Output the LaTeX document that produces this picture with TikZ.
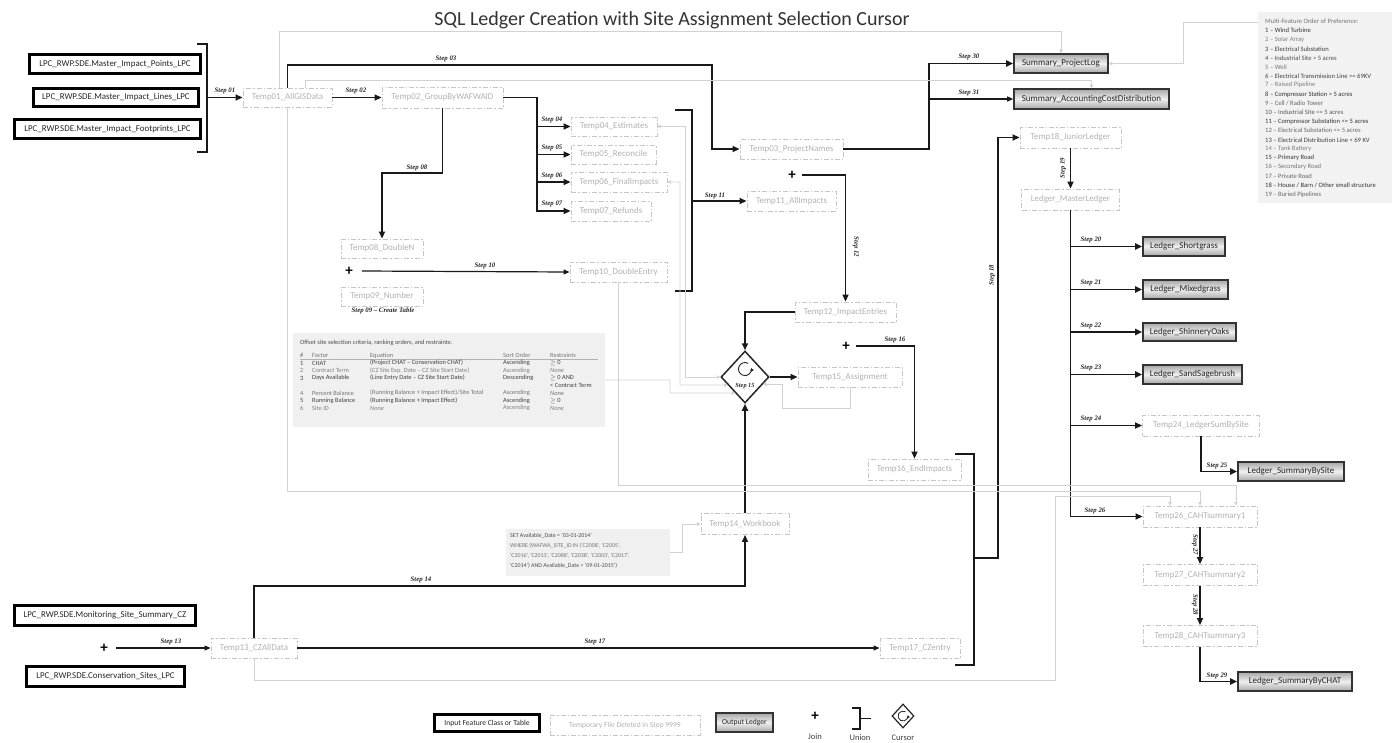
\documentclass[tikz,border=0pt]{standalone}
\usepackage{fontspec}
\setmainfont{Carlito}
\newfontfamily\stepfont{Liberation Serif}
\usetikzlibrary{arrows.meta,shapes.geometric,calc}
\newcommand\myfs[1]{\fontsize{#1}{#1}\selectfont}
\begin{document}
\begin{tikzpicture}[x=1pt,y=-1pt,
 tmp/.style={draw=gray!45, line width=0.9pt, dash pattern=on 5pt off 2pt on 1.5pt off 2pt, text=gray!60, font=\myfs{8.9}, minimum height=20, minimum width=#1, inner sep=0pt},
 inp/.style={draw=black, line width=3pt, fill=white, font=\myfs{8.9}, text=black!85, minimum height=19, minimum width=#1, inner sep=0pt},
 outb/.style={draw=black!80, line width=1.6pt, top color=gray!70, bottom color=gray!70, middle color=gray!12, font=\myfs{9}, text=black!85, minimum height=19, minimum width=#1, inner sep=0pt},
 stp/.style={font=\stepfont\bfseries\itshape\myfs{6.8}, text=black!85, inner sep=0pt},
 joinp/.style={font=\bfseries\myfs{15}, inner sep=1pt},
 ar/.style={line width=1.8pt, black!90, -{Triangle[length=7pt,width=6pt]}},
 art/.style={line width=1.2pt, black!90, -{Triangle[length=6pt,width=5pt]}},
 gl/.style={draw=gray!35, line width=0.8pt},
 ga/.style={gl, -{Triangle[length=3.5pt,width=3.5pt]}},
 gaa/.style={gl, {Triangle[length=3.5pt,width=3.5pt]}-{Triangle[length=3.5pt,width=3.5pt]}},
 brk/.style={line width=1.4pt, black!90},
 small/.style={font=\myfs{6.4}, anchor=west, inner sep=0pt}
]
\fill[white] (0,0) rectangle (1395,742);
\useasboundingbox (0,0) rectangle (1395,742);

% title
\node[font=\myfs{20}, text=black!80] (title) at (672,20) {SQL Ledger Creation with Site Assignment Selection Cursor};

% input boxes
\node[inp=171] (in1) at (115,64) {LPC\_RWP.SDE.Master\_Impact\_Points\_LPC};
\node[inp=165, minimum height=18] (in2) at (116,97.5) {LPC\_RWP.SDE.Master\_Impact\_Lines\_LPC};
\node[inp=186] (in3) at (107.5,129) {LPC\_RWP.SDE.Master\_Impact\_Footprints\_LPC};
\node[inp=181, minimum height=20] (in4) at (105,615.5) {LPC\_RWP.SDE.Monitoring\_Site\_Summary\_CZ};
\node[inp=158, minimum height=20] (in5) at (105.5,676.5) {LPC\_RWP.SDE.Conservation\_Sites\_LPC};

% temp nodes
\node[tmp=89, minimum height=19] (t01) at (287.5,97.5) {Temp01\_AllGISData};
\node[tmp=121, minimum height=21] (t02) at (442.5,97.5) {Temp02\_GroupByWAFWAID};
\node[tmp=103] (t03) at (791.5,149) {Temp03\_ProjectNames};
\node[tmp=86, minimum height=19] (t04) at (614,126.5) {Temp04\_Estimates};
\node[tmp=85, minimum height=19] (t05) at (613.5,154.5) {Temp05\_Reconcile};
\node[tmp=96] (t06) at (619,182) {Temp06\_FinalImpacts};
\node[tmp=80] (t07) at (611,211) {Temp07\_Refunds};
\node[tmp=82, minimum height=19] (t08) at (382,248.5) {Temp08\_DoubleN};
\node[tmp=82, minimum height=19] (t09) at (382,296.5) {Temp09\_Number};
\node[tmp=97] (t10) at (618.5,272) {Temp10\_DoubleEntry};
\node[tmp=89] (t11) at (791.5,201) {Temp11\_AllImpacts};
\node[tmp=101] (t12) at (845.5,312) {Temp12\_ImpactEntries};
\node[tmp=86] (t13) at (254,648) {Temp13\_CZAllData};
\node[tmp=88, minimum height=21] (t14) at (745,524) {Temp14\_Workbook};
\node[tmp=104] (t15) at (850,377) {Temp15\_Assignment};
\node[tmp=93, minimum height=21] (t16) at (914.5,469.5) {Temp16\_EndImpacts};
\node[tmp=80] (t17) at (920,648) {Temp17\_CZentry};
\node[tmp=101, minimum height=21] (t18) at (1070.5,137.5) {Temp18\_JuniorLedger};
\node[tmp=98, minimum height=21] (lm) at (1070.5,199.5) {Ledger\_MasterLedger};
\node[tmp=117, minimum height=21] (t24) at (1201,425.5) {Temp24\_LedgerSumBySite};
\node[tmp=114, minimum height=21] (t26) at (1200,516.5) {Temp26\_CAHTsummary1};
\node[tmp=114, minimum height=21] (t27) at (1200,575) {Temp27\_CAHTsummary2};
\node[tmp=114, minimum height=21] (t28) at (1200,636) {Temp28\_CAHTsummary3};

% output ledgers
\node[outb=94] (spl) at (1061,63.5) {Summary\_ProjectLog};
\node[outb=155, minimum height=20] (sac) at (1091.5,99) {Summary\_AccountingCostDistribution};
\node[outb=82] (lsg) at (1184,246.5) {Ledger\_Shortgrass};
\node[outb=85] (lmg) at (1185.5,289.5) {Ledger\_Mixedgrass};
\node[outb=93, minimum height=18] (lso) at (1189.5,332) {Ledger\_ShinneryOaks};
\node[outb=99] (lss) at (1192.5,374.5) {Ledger\_SandSagebrush};
\node[outb=106] (lsbs) at (1291,471.5) {Ledger\_SummaryBySite};
\node[outb=114] (lsbc) at (1295,681.5) {Ledger\_SummaryByCHAT};

% cursor diamond
\node[diamond, draw=black!85, line width=1.5pt, fill=white, minimum width=48, minimum height=52, inner sep=0pt] (cur) at (745,377) {};
\draw[line width=0.9pt, black!85, -{Triangle[length=3pt,width=3.5pt]}] (748.25,363.4) arc[start angle=-60, end angle=-370, radius=6.5];
\node[stp, font=\stepfont\bfseries\itshape\myfs{6.3}] (s15) at (745,386.5) {Step 15};

% join symbols
\node[joinp] (j1) at (349,271) {+};
\node[joinp] (j2) at (792,175) {+};
\node[joinp] (j3) at (846,346) {+};
\node[joinp] (j4) at (104,648) {+};

% grey boxes: table, note, preference legend
\node[fill=gray!12, minimum width=312, minimum height=94, inner sep=0pt] (tab) at (449,380) {};
\node[fill=gray!12, minimum width=164, minimum height=47, inner sep=0pt] (note) at (588,552.5) {};
\node[fill=gray!10, minimum width=134, minimum height=191, inner sep=0pt] (leg) at (1325,107.5) {};

% table text
\node[small, text=black!70] (tabt) at (300,343) {Offset site selection criteria, ranking orders, and restraints:};
\draw[gray!60, line width=0.4pt] (300,359.5) -- (598,359.5);
\node[small, text=black!55] (th1) at (300,355.5) {\#};
\node[small, text=black!55] (th2) at (312,355.5) {Factor};
\node[small, text=black!55] (th3) at (370,355.5) {Equation};
\node[small, text=black!55] (th4) at (503,355.5) {Sort Order};
\node[small, text=black!55] (th5) at (550,355.5) {Restraints};
\foreach \yy/\n/\f/\e/\s/\r/\cc in {
 363/1/CHAT/{(Project CHAT – Conservation CHAT)}/Ascending/{$\geq$ 0}/black!75,
 370.5/2/Contract Term/{(CZ Site Exp. Date – CZ Site Start Date)}/Ascending/{\textit{None}}/black!50,
 378/3/Days Available/{(Line Entry Date – CZ Site Start Date)}/Descending/{$\geq$ 0 AND}/black!75,
 393/4/Percent Balance/{(Running Balance + Impact Effect){/}Site Total}/Ascending/{\textit{None}}/black!55,
 400.5/5/Running Balance/{(Running Balance + Impact Effect)}/Ascending/{$\geq$ 0}/black!75,
 408/6/Site ID/{\textit{None}}/Ascending/{\textit{None}}/black!50}{
  \node[small, text=\cc] (tn\n) at (300,\yy) {\n};
  \node[small, text=\cc] (tf\n) at (312,\yy) {\f};
  \node[small, text=\cc] (te\n) at (370,\yy) {\e};
  \node[small, text=\cc] (ts\n) at (503,\yy) {\s};
  \node[small, text=\cc] (tr\n) at (550,\yy) {\r};
}
\node[small, text=black!75] (tr3b) at (550,385.5) {< Contract Term};

% note text
\node[small, font=\myfs{5.9}, text=black!70] (n1) at (510,536) {SET Available\_Date = '03-01-2014'};
\node[small, font=\myfs{5.9}, text=black!55] (n2) at (510,546) {WHERE (WAFWA\_SITE\_ID IN ('C2008', 'C2005',};
\node[small, font=\myfs{5.9}, text=black!55] (n3) at (510,556) {'C2016', 'C2013', 'C2088', 'C2038', 'C2003', 'C2017',};
\node[small, font=\myfs{5.9}, text=black!70] (n4) at (510,566) {'C2014') AND Available\_Date < '09-01-2015')};

% preference legend text
\node[small, font=\myfs{6.6}, text=black!55] (lg0) at (1265,21.5) {Multi-Feature Order of Preference:};
\foreach \i/\t/\cc in {
 1/{1 – Wind Turbine}/black!80,
 2/{2 – Solar Array}/black!50,
 3/{3 – Electrical Substation}/black!75,
 4/{4 – Industrial Site > 5 acres}/black!70,
 5/{5 – Well}/black!55,
 6/{6 – Electrical Transmission Line >= 69KV}/black!75,
 7/{7 – Raised Pipeline}/black!50,
 8/{8 – Compressor Station > 5 acres}/black!80,
 9/{9 – Cell / Radio Tower}/black!60,
 10/{10 – Industrial Site <= 5 acres}/black!65,
 11/{11 – Compressor Substation <= 5 acres}/black!80,
 12/{12 – Electrical Substation <= 5 acres}/black!60,
 13/{13 – Electrical Distribution Line < 69 KV}/black!75,
 14/{14 – Tank Battery}/black!50,
 15/{15 – Primary Road}/black!80,
 16/{16 – Secondary Road}/black!55,
 17/{17 – Private Road}/black!60,
 18/{18 – House / Barn / Other small structure}/black!80,
 19/{19 – Buried Pipelines}/black!60}{
  \node[small, font=\myfs{6.6}, text=\cc] (lg\i) at (1265,{21.5+9.1*\i}) {\t};
}

% input bracket and step 01
\draw[brk] (197,44) -- (207,44) -- (207,152) -- (197,152);
\coordinate (u1) at (207,97.5);
\draw[ar] (u1) -- (t01.west);
\node[stp] (s01) at (225,91) {Step 01};

% step 02
\draw[ar] (t01.east) -- (t02.west);
\node[stp] (s02) at (356,91) {Step 02};

% step 03
\draw[ar] (t01.north) |- (712,65) |- (t03.west);
\node[stp] (s03) at (446,59) {Step 03};

% steps 04-07
\coordinate (v47) at (537,97.5);
\draw[ar] (t02.east) -| (v47 |- t07.west) -- (t07.west);
\draw[ar] (v47 |- t04.west) -- (t04.west);
\draw[ar] (v47 |- t05.west) -- (t05.west);
\draw[ar] (v47 |- t06.west) -- (t06.west);
\node[stp] (s04) at (552,120) {Step 04};
\node[stp] (s05) at (552,148) {Step 05};
\node[stp] (s06) at (552,176) {Step 06};
\node[stp] (s07) at (552,204) {Step 07};

% step 08
\draw[ar] (t02.south) |- (382,173) -- (t08.north);
\node[stp] (s08) at (417,168) {Step 08};
\node[stp] (s09) at (383,311) {Step 09 – Create Table};

% step 10
\draw[art] ([xshift=8pt]j1.east) -- (t10.west);
\node[stp] (s10) at (485,266) {Step 10};

% step 11 union
\draw[brk] (675,110) -- (692,110) -- (692,291) -- (675,291);
\coordinate (u2) at (692,201);
\draw[ar] (u2) -- (t11.west);
\node[stp] (s11) at (715,196) {Step 11};

% step 12
\draw[ar] ([xshift=5pt]j2.east) -| (t12.north);
\node[stp, rotate=-90] (s12) at (856,247) {Step 12};

% to cursor
\draw[ar] (t12.west) -| (cur.north);
\draw[ar] (cur.east) -- (t15.west);

% step 13, 14, 17
\draw[art] ([xshift=7pt]j4.east) -- (t13.west);
\node[stp] (s13) at (171,642) {Step 13};
\draw[ar] (t13.north) |- (745,586) -- (t14.south);
\node[stp] (s14) at (421,580) {Step 14};
\draw[ar] (t14.north) -- (cur.south);
\draw[art] (t13.east) -- (t17.west);
\node[stp] (s17) at (595,642) {Step 17};

% step 16
\draw[ar] ([xshift=5pt]j3.east) -| (t16.north);
\node[stp] (s16) at (895,340) {Step 16};

% step 18 union
\draw[brk] (955,454) -- (974,454) -- (974,665) -- (955,665);
\coordinate (u3) at (974,558);
\draw[ar] (u3) -- (998,558) |- (t18.west);
\node[stp, rotate=90] (s18) at (992,275) {Step 18};

% step 19
\draw[ar] (t18.south) -- (lm.north);
\node[stp, rotate=90] (s19) at (1063,168) {Step 19};

% ledger column
\draw[ar] (lm.south) |- (t26.west);
\draw[ar] (lm.south |- lsg.west) -- (lsg.west);
\draw[ar] (lm.south |- lmg.west) -- (lmg.west);
\draw[ar] (lm.south |- lso.west) -- (lso.west);
\draw[ar] (lm.south |- lss.west) -- (lss.west);
\draw[ar] (lm.south |- t24.west) -- (t24.west);
\node[stp] (s20) at (1091,240) {Step 20};
\node[stp] (s21) at (1091,283) {Step 21};
\node[stp] (s22) at (1091,326) {Step 22};
\node[stp] (s23) at (1091,368) {Step 23};
\node[stp] (s24) at (1091,419) {Step 24};
\node[stp] (s26) at (1095,511) {Step 26};
\draw[ar] (t24.south) |- (lsbs.west);
\node[stp] (s25) at (1217,466) {Step 25};
\draw[ar] (t26.south) -- (t27.north);
\node[stp, rotate=-90] (s27) at (1195,545) {Step 27};
\draw[ar] (t27.south) -- (t28.north);
\node[stp, rotate=-90] (s28) at (1195,605) {Step 28};
\draw[ar] (t28.south) |- (lsbc.west);
\node[stp] (s29) at (1217,676) {Step 29};

% steps 30, 31
\coordinate (v30) at (929,63.5);
\draw[ar] (t03.east) -| (v30) -- (spl.west);
\draw[art] (v30 |- sac.west) -- (sac.west);
\node[stp] (s30) at (969,57) {Step 30};
\node[stp] (s31) at (969,93) {Step 31};

% grey reference lines
\draw[ga] ([xshift=-8.5pt]t01.north) |- ([yshift=22pt]spl.north) -- (spl.north);
\draw[ga] ([xshift=17.5pt]t01.north) |- ([yshift=8pt]sac.north) -- (sac.north);
\draw[ga] (t01.south) |- ([yshift=14pt]t26.north) -- (t26.north);
\draw[ga] (t10.south) |- ([xshift=36pt,yshift=20pt]t26.north) -- ([xshift=36pt]t26.north);
\draw[ga] (t13.south) |- (1055,680) |- ([xshift=-30pt,yshift=9pt]t26.north) -- ([xshift=-30pt]t26.north);
\draw[gaa] (t04.east) -| (685,377) -- (cur.west);
\draw[gaa] (t06.east) -| (680,385) -- ($(cur.west)!0.3!(cur.south)$);
\draw[ga] (tab.east) -| (670,393) -- ($(cur.west)!0.6!(cur.south)$);
\draw[ga] (t15.south) |- (782,408) |- ($(cur.east)!0.27!(cur.south)$);
\draw[ga] (note.east) -| (682,524) -- (t14.west);
\draw[ga] ([yshift=-11pt]leg.north west) -| (1183,63.5) -- (spl.east);

% bottom legend
\node[inp=105, minimum height=17, font=\myfs{7.6}] (k1) at (487,723) {Input Feature Class or Table};
\node[tmp=150, font=\myfs{7.6}] (k2) at (625,725) {Temporary File Deleted in Step 9999};
\node[outb=57, font=\myfs{7.6}] (k3) at (744.5,722.5) {Output Ledger};
\node[joinp] (k4) at (815,716) {+};
\node[font=\myfs{8.5}, text=black!75] (k4t) at (815,737) {Join};
\draw[brk, line width=1.1pt] (852,708) -- (860,708) -- (860,729) -- (852,729);
\coordinate (k5) at (860,718.5);
\draw[line width=1.1pt, black!90] (k5) -- (871,718.5);
\node[font=\myfs{8.5}, text=black!75] (k5t) at (860,737.5) {Union};
\node[diamond, draw=black!85, line width=1.2pt, fill=white, minimum width=22, minimum height=24, inner sep=0pt] (k6) at (903,716) {};
\draw[line width=0.8pt, black!85, -{Triangle[length=2.5pt,width=3pt]}] (905.5,711.7) arc[start angle=-60, end angle=-370, radius=5];
\node[font=\myfs{8.5}, text=black!75] (k6t) at (903,737.5) {Cursor};
\end{tikzpicture}
\end{document}
